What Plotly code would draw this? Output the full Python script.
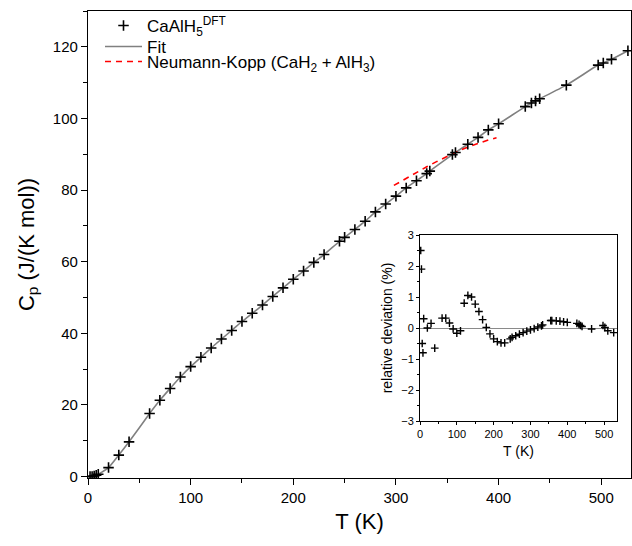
import plotly.graph_objects as go

# ---- data ----
T_dft = [2, 4, 6, 8, 10, 20, 30, 40, 60, 70, 80, 90, 100, 110, 120, 130, 140,
         150, 160, 170, 180, 190, 200, 210, 220, 230, 245, 250, 260, 270, 280,
         290, 300, 310, 320, 330, 333, 355, 358, 370, 380, 390, 400, 426, 432,
         436, 440, 466, 497, 502, 510, 526]
Cp_dft = [0.01, 0.05, 0.15, 0.35, 0.65, 2.5, 6.0, 9.7, 17.6, 21.3, 24.6, 27.8,
          30.7, 33.3, 35.9, 38.4, 40.8, 43.3, 45.6, 47.9, 50.3, 52.7, 55.1,
          57.4, 59.8, 62.0, 65.7, 66.8, 69.0, 71.3, 73.9, 76.1, 78.3, 80.6,
          82.6, 84.6, 85.3, 89.9, 90.5, 92.8, 94.7, 96.8, 98.5, 103.3, 104.3,
          104.9, 105.5, 109.3, 114.9, 115.5, 116.5, 118.9]
dev_pct = [2.5, 1.9, -0.5, -0.8, 0.3, 0.0, 0.15, -0.65, 0.32, 0.32, 0.16,
           -0.03, -0.17, -0.09, 0.8, 1.05, 1.0, 0.77, 0.53, 0.27, 0.02, -0.19,
           -0.35, -0.44, -0.48, -0.48, -0.35, -0.3, -0.25, -0.2, -0.15, -0.1,
           -0.06, -0.02, 0.03, 0.07, 0.1, 0.24, 0.24, 0.23, 0.22, 0.2, 0.18,
           0.15, 0.12, 0.08, 0.05, -0.03, 0.08, 0.02, -0.09, -0.15]
T_nk = [298, 310, 320, 330, 340, 350, 360, 370, 380, 390, 398]
Cp_nk = [81.3, 83.3, 84.9, 86.5, 88.0, 89.5, 90.8, 92.0, 93.1, 94.0, 94.6]

FONT = "Arial, Liberation Sans, sans-serif"

# plot-area geometry (pixels)
W, H = 632, 546
L, R, TOP, B = 88, 1, 11, 68
PW = W - L - R
PH = H - TOP - B


def px(pix):
    """paper x for a pixel column"""
    return (pix - L) / PW


def py(pix):
    """paper y for a pixel row"""
    return (H - B - pix) / PH


fig = go.Figure()

# Fit line first so it lies beneath the markers
fig.add_trace(go.Scatter(
    x=[0] + T_dft, y=[0] + Cp_dft, mode="lines", name="Fit",
    line=dict(color="#808080", width=1.6, shape="spline", smoothing=0.6),
    legend="legend2", xaxis="x", yaxis="y"))
fig.add_trace(go.Scatter(
    x=T_nk, y=Cp_nk, mode="lines",
    name="Neumann-Kopp (CaH<sub>2</sub> + AlH<sub>3</sub>)",
    line=dict(color="#ff0000", width=1.6, dash="6px,5px"),
    legend="legend3", xaxis="x", yaxis="y"))
fig.add_trace(go.Scatter(
    x=T_dft, y=Cp_dft, mode="markers",
    name="CaAlH<sub>5</sub><sup>DFT</sup>",
    marker=dict(symbol="cross-thin", size=7.5, color="black",
                line=dict(color="black", width=1.6)),
    legend="legend", xaxis="x", yaxis="y"))

fig.add_trace(go.Scatter(
    x=T_dft, y=dev_pct, mode="markers", showlegend=False,
    marker=dict(symbol="cross-thin", size=5.5, color="black",
                line=dict(color="black", width=1.4)),
    xaxis="x2", yaxis="y2"))

axis_common = dict(showline=True, linecolor="black", linewidth=1.3,
                   mirror=True, ticks="outside", tickcolor="black",
                   showgrid=False, zeroline=False, automargin=False)

leg_common = dict(x=px(100), xanchor="left", yanchor="top",
                  bgcolor="rgba(0,0,0,0)", font=dict(size=17, family=FONT),
                  itemwidth=37, borderwidth=0)

fig.update_layout(
    width=W, height=H,
    margin=dict(l=L, r=R, t=TOP, b=B, autoexpand=False),
    paper_bgcolor="white", plot_bgcolor="white",
    font=dict(family=FONT, color="black"),
    showlegend=True,
    legend=dict(**leg_common, y=py(8)),
    legend2=dict(**leg_common, y=py(29)),
    legend3=dict(**leg_common, y=py(44)),
    xaxis=dict(**axis_common, range=[0, 529], dtick=100, ticklen=6,
               tickwidth=1.3, tickfont=dict(size=15),
               minor=dict(dtick=50, ticks="outside", ticklen=4,
                          tickcolor="black", tickwidth=1.3),
               title=dict(text="T (K)", font=dict(size=22), standoff=8)),
    yaxis=dict(**axis_common, range=[-0.4, 130], dtick=20, ticklen=6,
               tickwidth=1.3, tickfont=dict(size=15),
               minor=dict(dtick=10, ticks="outside", ticklen=4,
                          tickcolor="black", tickwidth=1.3),
               title=dict(text="C<sub>p</sub> (J/(K mol))", font=dict(size=22),
                          standoff=12)),
    xaxis2=dict(showline=True, linecolor="black", linewidth=1, mirror=True,
                ticks="outside", ticklen=3, tickcolor="black", showgrid=False,
                zeroline=False, automargin=False, anchor="y2",
                domain=[px(420), px(617)],
                range=[0, 535], dtick=100, tickfont=dict(size=11),
                minor=dict(dtick=50, ticks="outside", ticklen=2,
                           tickcolor="black"),
                title=dict(text="T (K)", font=dict(size=14), standoff=6)),
    yaxis2=dict(showline=True, linecolor="black", linewidth=1, mirror=True,
                ticks="outside", ticklen=3, tickcolor="black", showgrid=False,
                zeroline=True, zerolinecolor="#8a8a8a", zerolinewidth=1.4,
                automargin=False, anchor="x2",
                domain=[py(421), py(235)], range=[-3, 3], dtick=1,
                tickfont=dict(size=11),
                minor=dict(dtick=0.5, ticks="outside", ticklen=2,
                           tickcolor="black"),
                title=dict(text="relative deviation (%)", font=dict(size=14),
                           standoff=5)),
)

# remove the browser's default 8px page margin so the figure sits at (0,0)
fig.write_html("out.html",
               config={"displayModeBar": False},
               post_script="document.body.style.margin='0';"
                           "document.body.style.padding='0';")
